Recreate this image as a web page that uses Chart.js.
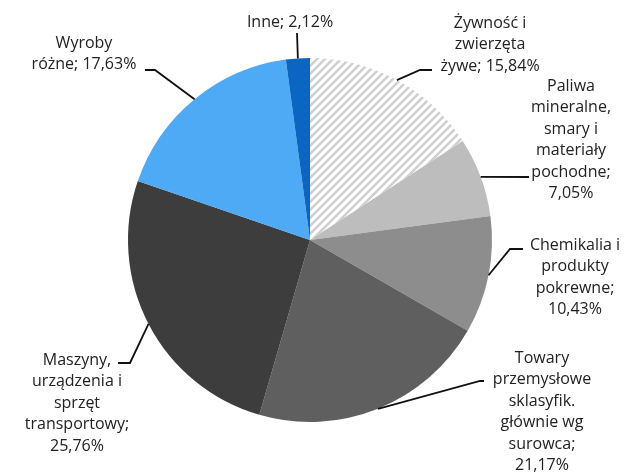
<!DOCTYPE html>
<html>
<head>
<meta charset="utf-8">
<script src="https://cdn.jsdelivr.net/npm/chart.js@4"></script>
<style>
  body { margin: 0; background: #fff; }
  canvas { display: block; }
</style>
</head>
<body>
<canvas id="pieChart" width="626" height="476"></canvas>
<script>
// Data (clockwise from the top)
const categories = [
    'Żywność i\nzwierzęta\nżywe',
    'Paliwa\nmineralne,\nsmary i\nmateriały\npochodne',
    'Chemikalia i\nprodukty\npokrewne',
    'Towary\nprzemysłowe\nsklasyfik.\ngłównie wg\nsurowca',
    'Maszyny,\nurządzenia i\nsprzęt\ntransportowy',
    'Wyroby\nróżne',
    'Inne'
];
const shares = [15.84, 7.05, 10.43, 21.17, 25.76, 17.63, 2.12];

// Does the percentage go on its own line?
const valueOnNewLine = [false, true, true, true, true, false, false];

// Hatched fill for the first slice
function makeHatch() {
    const c = document.createElement('canvas');
    c.width = 8;
    c.height = 8;
    const g = c.getContext('2d');
    g.fillStyle = '#ffffff';
    g.fillRect(0, 0, 8, 8);
    g.strokeStyle = '#cfcfcf';
    g.lineWidth = 2.5;
    g.beginPath();
    g.moveTo(-2, 10); g.lineTo(10, -2);
    g.moveTo(-6, 6); g.lineTo(6, -6);
    g.moveTo(2, 14); g.lineTo(14, 2);
    g.stroke();
    return g.createPattern(c, 'repeat');
}

const ctx = document.getElementById('pieChart').getContext('2d');
const sliceColors = [makeHatch(), '#bdbdbd', '#8d8d8d', '#5f5f5f', '#3d3d3d', '#4eaaf5', '#0a66c2'];

// Where each label sits: elbow of the leader line, end of the leader, text centre x, first line y
const labelLayout = [
    { elbow: [420, 70], end: [432, 70], tx: 490, ty: 23 },
    { elbow: [529, 177], end: [529, 177], tx: 571, ty: 86 },
    { elbow: [510, 249], end: [523, 249], tx: 575, ty: 245 },
    { elbow: [480, 381], end: [484, 381], tx: 542, ty: 358 },
    { elbow: [130, 363], end: [118, 363], tx: 77, ty: 360 },
    { elbow: [155, 70], end: [145, 70], tx: 84, ty: 43 },
    { elbow: [297, 33], end: [297, 33], tx: 290, ty: 22 }
];

function formatShare(v) {
    return v.toFixed(2).replace('.', ',') + '%';
}

// Outside labels with leader lines
const outsideLabels = {
    id: 'outsideLabels',
    afterDatasetsDraw(chart) {
        const c = chart.ctx;
        const arcs = chart.getDatasetMeta(0).data;
        c.save();
        c.font = '16px "Open Sans"';
        c.fillStyle = '#222';
        c.strokeStyle = '#111';
        c.lineWidth = 1.8;
        c.textAlign = 'center';
        c.textBaseline = 'middle';
        arcs.forEach((arc, i) => {
            const mid = (arc.startAngle + arc.endAngle) / 2;
            const sx = arc.x + Math.cos(mid) * arc.outerRadius;
            const sy = arc.y + Math.sin(mid) * arc.outerRadius;
            const lay = labelLayout[i];
            c.beginPath();
            c.moveTo(sx, sy);
            c.lineTo(lay.elbow[0], lay.elbow[1]);
            c.lineTo(lay.end[0], lay.end[1]);
            c.stroke();

            const text = categories[i] + ';' + (valueOnNewLine[i] ? '\n' : ' ') + formatShare(chart.data.datasets[0].data[i]);
            text.split('\n').forEach((line, k) => {
                c.fillText(line, lay.tx, lay.ty + k * 21.5);
            });
        });
        c.restore();
    }
};

new Chart(ctx, {
    type: 'pie',
    data: {
        labels: categories,
        datasets: [{
            data: shares,
            backgroundColor: sliceColors,
            borderWidth: 0
        }]
    },
    options: {
        responsive: false,
        animation: false,
        layout: {
            padding: { left: 128, right: 134, top: 58, bottom: 54 }
        },
        plugins: {
            legend: { display: false },
            tooltip: { enabled: false }
        }
    },
    plugins: [outsideLabels]
});
</script>
</body>
</html>
